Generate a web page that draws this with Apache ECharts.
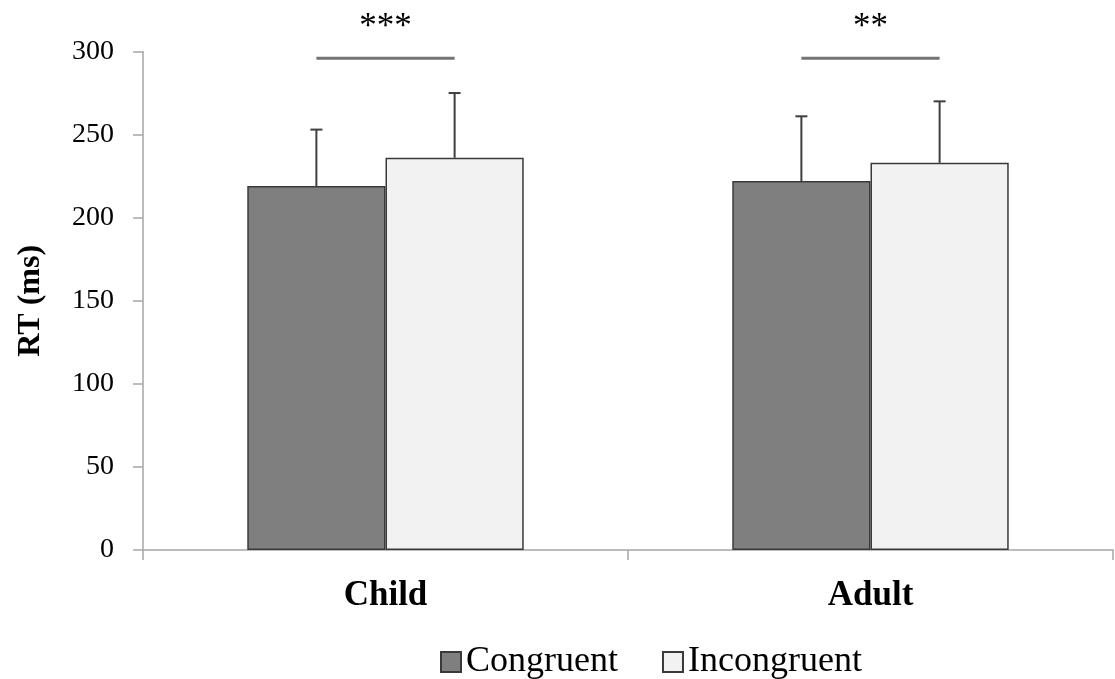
<!DOCTYPE html>
<html>
<head>
<meta charset="utf-8">
<script src="https://cdn.jsdelivr.net/npm/echarts@6/dist/echarts.min.js"></script>
<style>
  html, body { margin: 0; padding: 0; background: #ffffff; }
  #chart { width: 1115px; height: 679px; }
</style>
</head>
<body>
<div id="chart"></div>
<script>
// Reaction times (ms) by group and condition
const groups = ['Child', 'Adult'];
const seriesNames = ['Congruent', 'Incongruent'];
const congruentRT = [219, 222];
const incongruentRT = [236, 233];
// Upper error (SD) added on top of each bar
const congruentSD = [34, 39];
const incongruentSD = [39, 37];
// Significance brackets between conditions
const sigLabels = ['***', '**'];
const sigLevel = [296, 296];
const yTicks = { min: 0, max: 300, interval: 50 };

const FONT = '"Liberation Serif", "Times New Roman", serif';
const CATEGORY_GAP = 0.43;

function barWidthFor(api) {
  const band = api.size([1, 0])[0];
  return band * (1 - CATEGORY_GAP) / 2;
}

// Error bars: side 0 = left bar, 1 = right bar
function errorRenderer(side) {
  return function (params, api) {
    const cat = api.value(0);
    const mean = api.value(1);
    const sd = api.value(2);
    const w = barWidthFor(api);
    const center = api.coord([cat, 0])[0] + (side === 0 ? -w / 2 : w / 2);
    const yMean = api.coord([cat, mean])[1];
    const yTop = api.coord([cat, mean + sd])[1];
    const cap = 6;
    const style = { stroke: '#3f3f3f', lineWidth: 2 };
    return {
      type: 'group',
      children: [
        { type: 'line', shape: { x1: center, y1: yMean, x2: center, y2: yTop }, style },
        { type: 'line', shape: { x1: center - cap, y1: yTop, x2: center + cap, y2: yTop }, style }
      ]
    };
  };
}

function sigRenderer(params, api) {
  const cat = api.value(0);
  const level = api.value(1);
  const w = barWidthFor(api);
  const cx = api.coord([cat, 0])[0];
  const y = api.coord([cat, level])[1];
  return {
    type: 'group',
    children: [
      { type: 'line', shape: { x1: cx - w / 2, y1: y, x2: cx + w / 2, y2: y },
        style: { stroke: '#747474', lineWidth: 3 } },
      { type: 'text', x: cx, y: y - 30,
        style: { text: sigLabels[params.dataIndex], font: '35px ' + FONT, fill: '#000',
                 align: 'center', verticalAlign: 'middle' } }
    ]
  };
}

const chart = echarts.init(document.getElementById('chart'), null, { renderer: 'canvas' });

chart.setOption({
  animation: false,
  backgroundColor: '#ffffff',
  grid: { left: 143, right: 2, top: 51.5, bottom: 129 },
  legend: {
    data: seriesNames,
    left: 435,
    top: 639,
    icon: 'rect',
    itemWidth: 20,
    itemHeight: 20,
    itemGap: 44,
    textStyle: { fontFamily: FONT, fontSize: 36, color: '#000' }
  },
  xAxis: {
    type: 'category',
    data: groups,
    axisLine: { lineStyle: { color: '#a6a6a6', width: 1.5 } },
    axisTick: { show: true, length: 10, lineStyle: { color: '#a6a6a6', width: 1.5 } },
    axisLabel: { fontFamily: FONT, fontSize: 35, fontWeight: 'bold', color: '#000', margin: 28 }
  },
  yAxis: {
    type: 'value',
    min: yTicks.min,
    max: yTicks.max,
    interval: yTicks.interval,
    name: 'RT (ms)',
    nameLocation: 'middle',
    nameGap: 96,
    nameRotate: 90,
    nameTextStyle: { fontFamily: FONT, fontSize: 32, fontWeight: 'bold', color: '#000' },
    splitLine: { show: false },
    axisLine: { show: true, lineStyle: { color: '#a6a6a6', width: 1.5 } },
    axisTick: { show: true, length: 10, lineStyle: { color: '#a6a6a6', width: 1.5 } },
    axisLabel: { fontFamily: FONT, fontSize: 28, color: '#000', margin: 29 }
  },
  series: [
    {
      name: seriesNames[0],
      type: 'bar',
      data: congruentRT,
      barGap: '0%',
      barCategoryGap: (CATEGORY_GAP * 100) + '%',
      itemStyle: { color: '#7f7f7f', borderColor: '#3a3a3a', borderWidth: 1.5 }
    },
    {
      name: seriesNames[1],
      type: 'bar',
      data: incongruentRT,
      barGap: '0%',
      barCategoryGap: (CATEGORY_GAP * 100) + '%',
      itemStyle: { color: '#f2f2f2', borderColor: '#3a3a3a', borderWidth: 1.5 }
    },
    {
      type: 'custom',
      renderItem: errorRenderer(0),
      data: groups.map((g, i) => [i, congruentRT[i], congruentSD[i]]),
      z: 5, silent: true
    },
    {
      type: 'custom',
      renderItem: errorRenderer(1),
      data: groups.map((g, i) => [i, incongruentRT[i], incongruentSD[i]]),
      z: 5, silent: true
    },
    {
      type: 'custom',
      renderItem: sigRenderer,
      data: groups.map((g, i) => [i, sigLevel[i]]),
      z: 5, silent: true, clip: false
    }
  ]
});
</script>
</body>
</html>
